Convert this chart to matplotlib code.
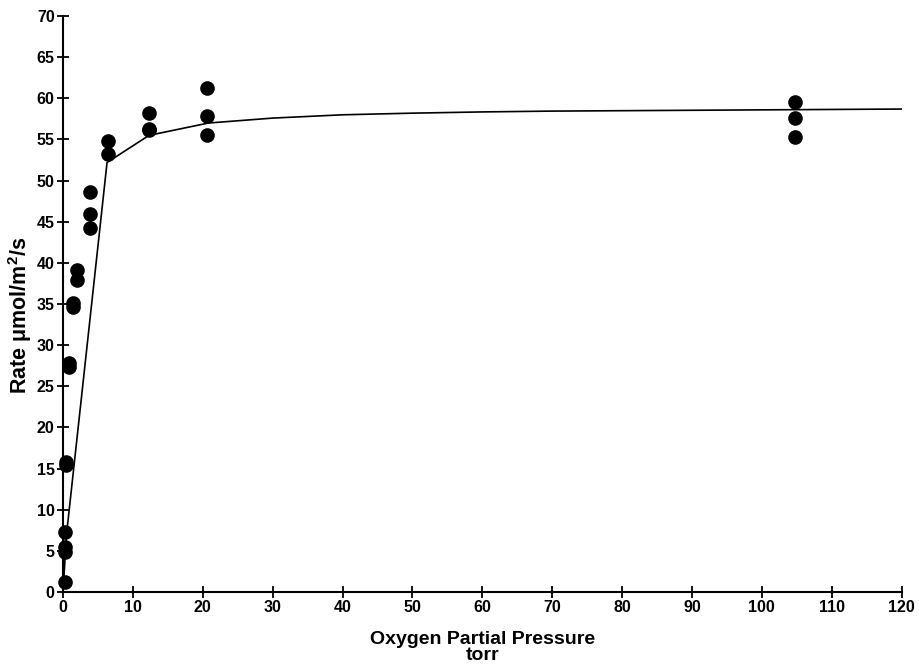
import matplotlib.pyplot as plt
import numpy as np

plt.rcParams['font.family'] = ['Liberation Sans', 'DejaVu Sans']
plt.rcParams['font.weight'] = 'bold'
plt.rcParams['mathtext.fontset'] = 'custom'
plt.rcParams['mathtext.rm'] = 'Liberation Sans:bold'
plt.rcParams['mathtext.it'] = 'Liberation Sans:bold'
plt.rcParams['mathtext.bf'] = 'Liberation Sans:bold'

# measured rates
po2 = [0.3, 0.3, 0.3, 0.3, 0.4, 0.4, 0.9, 0.9, 1.4, 1.4, 2.0, 2.0,
       3.9, 3.9, 3.9, 6.4, 6.4, 12.3, 12.3, 12.3, 20.6, 20.6, 20.6,
       104.7, 104.7, 104.7]
rate = [1.2, 4.9, 5.5, 7.3, 15.4, 15.8, 27.3, 27.8, 34.7, 35.1, 37.9, 39.1,
        44.2, 46.0, 48.6, 53.2, 54.8, 56.1, 56.3, 58.2, 55.6, 57.9, 61.3,
        55.3, 57.6, 59.6]

# fitted curve
fit_x = [0, 0.5, 6.3, 12.3, 20.8, 30, 40, 50, 60, 70, 80, 90, 100, 110, 120]
fit_y = [0, 7.0, 52.2, 55.5, 57.0, 57.6, 58.0, 58.2, 58.35, 58.45, 58.5,
         58.55, 58.6, 58.65, 58.7]

fig = plt.figure(figsize=(9.2, 6.69), dpi=100)
ax = fig.add_axes([0.0685, 0.115, 0.9115, 0.861])

ax.plot(fit_x, fit_y, color='black', lw=1.2, zorder=2)
ax.plot(po2, rate, 'o', color='black', ms=9.5, zorder=3, clip_on=False)

ax.set_xlim(0, 120)
ax.set_ylim(0, 70)
ax.set_xticks(np.arange(0, 121, 10))
ax.set_yticks(np.arange(0, 71, 5))
ax.spines['top'].set_visible(False)
ax.spines['right'].set_visible(False)
ax.spines['left'].set_linewidth(1.5)
ax.spines['bottom'].set_linewidth(1.5)
ax.tick_params(direction='inout', length=8, width=1.3, labelsize=11.5, pad=2)
for lab in ax.get_xticklabels() + ax.get_yticklabels():
    lab.set_fontweight('bold')

ax.set_xlabel('Oxygen Partial Pressure\ntorr', fontsize=14, fontweight='bold',
              linespacing=0.95, labelpad=11)
ax.set_ylabel(r'Rate $\mu$mol/m$^2$/s', fontsize=15.5, fontweight='bold')
ax.yaxis.set_label_coords(-0.035, 0.48)

fig.savefig('out.png', dpi=100)
